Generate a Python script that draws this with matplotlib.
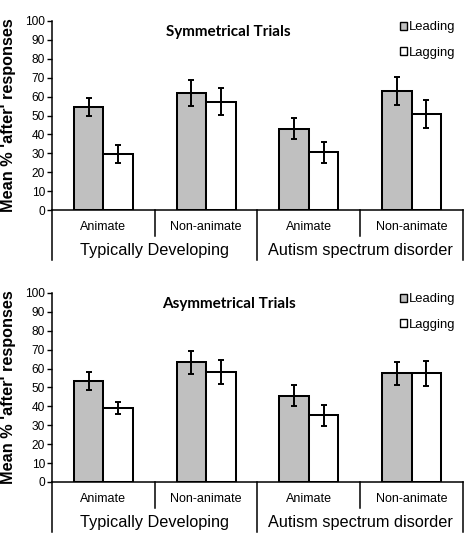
import matplotlib.pyplot as plt
from matplotlib.patches import Patch
import numpy as np

# ---------------------------------------------------------------------
categories = ["Animate", "Non-animate", "Animate", "Non-animate"]
groups = ["Typically Developing", "Autism spectrum disorder"]

sym_leading = [54.7, 62.0, 43.0, 63.0]
sym_leading_err = [4.7, 6.8, 5.5, 7.2]
sym_lagging = [29.5, 57.3, 30.5, 50.7]
sym_lagging_err = [4.7, 7.0, 5.5, 7.5]

asym_leading = [53.4, 63.3, 45.6, 57.5]
asym_leading_err = [4.6, 6.1, 5.5, 6.1]
asym_lagging = [39.3, 58.4, 35.2, 57.5]
asym_lagging_err = [3.2, 6.3, 5.7, 6.6]

GREY = "#c0c0c0"
BAR_W = 0.287
FONT = ["Liberation Sans", "DejaVu Sans"]
plt.rcParams["font.family"] = FONT


# =====================================================================
def draw_panel(ax, title, leading, leading_err, lagging, lagging_err):
    x = np.arange(len(categories))
    err_kw = dict(elinewidth=1.4, capthick=1.4, capsize=2.3, ecolor="black")
    ax.bar(x - BAR_W / 2, leading, BAR_W, color=GREY, edgecolor="black",
           linewidth=1.45, yerr=leading_err, error_kw=err_kw, zorder=2)
    ax.bar(x + BAR_W / 2, lagging, BAR_W, color="white", edgecolor="black",
           linewidth=1.45, yerr=lagging_err, error_kw=err_kw, zorder=2)

    ax.set_xlim(-0.5, len(categories) - 0.5)
    ax.set_ylim(0, 100)
    ax.set_yticks(np.arange(0, 101, 10))
    ax.tick_params(axis="y", labelsize=8.6, length=3.5, width=1, pad=1.5)
    ax.set_xticks([])
    for s in ["top", "right", "bottom"]:
        ax.spines[s].set_visible(False)
    ax.spines["left"].set_linewidth(1.1)
    ax.spines["left"].set_bounds(0, 100)

    tr = ax.get_xaxis_transform()
    # x-axis line and the separators below it
    ax.plot([-0.5, 3.5], [0, 0], color="black", lw=1.1, transform=tr, clip_on=False, zorder=3)
    for xs in [-0.5, 1.5, 3.5]:
        ax.plot([xs, xs], [0, -0.265], color="black", lw=1.1, transform=tr, clip_on=False)
    for xs in [0.5, 2.5]:
        ax.plot([xs, xs], [0, -0.138], color="black", lw=1.1, transform=tr, clip_on=False)
    for i, c in enumerate(categories):
        ax.text(i, -0.09, c, transform=tr, ha="center", va="center", fontsize=9)
    for i, g in enumerate(groups):
        ax.text(2 * i + 0.5, -0.212, g, transform=tr, ha="center", va="center", fontsize=11.7)

    ax.text(0.43, 0.98, title, transform=ax.transAxes, ha="center", va="top",
            fontsize=11, fontweight="bold", family=["Lato", "DejaVu Sans"])

    handles = [Patch(facecolor=GREY, edgecolor="black", lw=1.0, label="Leading"),
               Patch(facecolor="white", edgecolor="black", lw=1.0, label="Lagging")]
    ax.legend(handles=handles, loc="upper right", bbox_to_anchor=(1.0, 1.04),
              frameon=False, fontsize=9.4, handlelength=0.55, handleheight=0.55,
              handletextpad=0.15, labelspacing=1.05, borderaxespad=0.2)


fig = plt.figure(figsize=(4.72, 5.34), dpi=100)
ax1 = fig.add_axes([0.110, 0.6067, 0.871, 0.354])
ax2 = fig.add_axes([0.110, 0.0974, 0.871, 0.354])

draw_panel(ax1, "Symmetrical Trials", sym_leading, sym_leading_err, sym_lagging, sym_lagging_err)
draw_panel(ax2, "Asymmetrical Trials", asym_leading, asym_leading_err, asym_lagging, asym_lagging_err)

fig.text(0.019, 0.784, "Mean % 'after' responses", rotation=90, ha="center", va="center",
         fontsize=11.7, fontweight="bold")
fig.text(0.019, 0.275, "Mean % 'after' responses", rotation=90, ha="center", va="center",
         fontsize=11.7, fontweight="bold")

plt.savefig("out.png", dpi=100)
